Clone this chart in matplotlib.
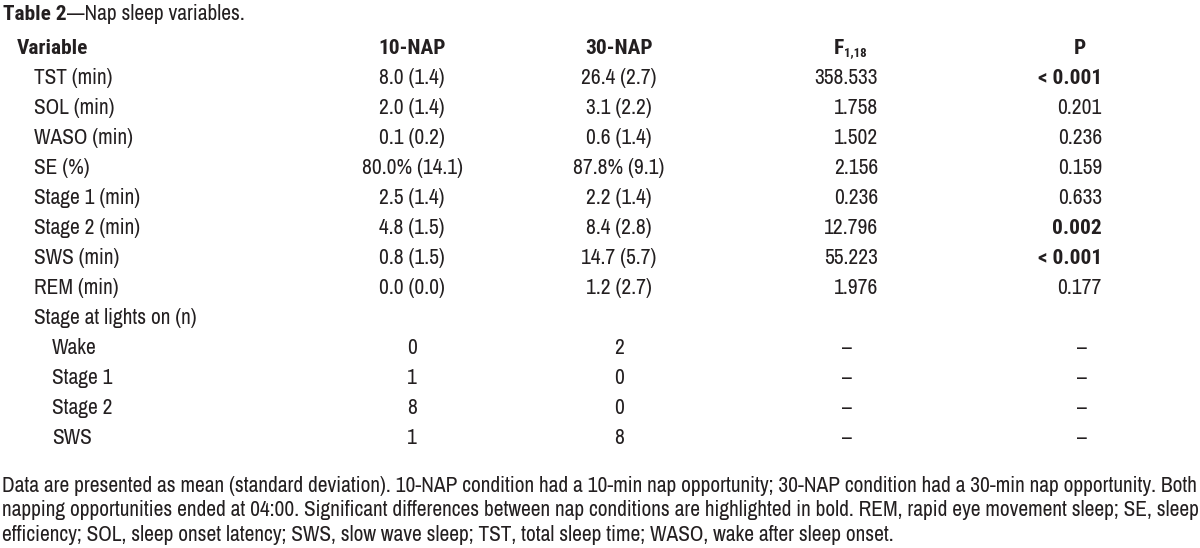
import matplotlib.pyplot as plt
from matplotlib import font_manager

# table content
variables = ["TST (min)", "SOL (min)", "WASO (min)", "SE (%)", "Stage 1 (min)",
             "Stage 2 (min)", "SWS (min)", "REM (min)"]
nap10 = ["8.0 (1.4)", "2.0 (1.4)", "0.1 (0.2)", "80.0% (14.1)", "2.5 (1.4)",
         "4.8 (1.5)", "0.8 (1.5)", "0.0 (0.0)"]
nap30 = ["26.4 (2.7)", "3.1 (2.2)", "0.6 (1.4)", "87.8% (9.1)", "2.2 (1.4)",
         "8.4 (2.8)", "14.7 (5.7)", "1.2 (2.7)"]
f_vals = ["358.533", "1.758", "1.502", "2.156", "0.236", "12.796", "55.223", "1.976"]
p_vals = ["< 0.001", "0.201", "0.236", "0.159", "0.633", "0.002", "< 0.001", "0.177"]
p_bold = [True, False, False, False, False, True, True, False]

stage_group = "Stage at lights on (n)"
stages = ["Wake", "Stage 1", "Stage 2", "SWS"]
stage_10 = ["0", "1", "8", "1"]
stage_30 = ["2", "0", "0", "8"]

title_bold = "Table 2"
title_rest = "\u2014Nap sleep variables."
footnote = [
    "Data are presented as mean (standard deviation). 10-NAP condition had a 10-min nap opportunity; 30-NAP condition had a 30-min nap opportunity. Both",
    "napping opportunities ended at 04:00. Significant differences between nap conditions are highlighted in bold. REM, rapid eye movement sleep; SE, sleep",
    "efficiency; SOL, sleep onset latency; SWS, slow wave sleep; TST, total sleep time; WASO, wake after sleep onset.",
]

ttf = font_manager.fontManager.ttflist
names = {f.name for f in ttf}
bold_names = {f.name for f in ttf if (f.weight if isinstance(f.weight, int) else 700 if f.weight == "bold" else 400) >= 600}
wanted = ["Liberation Sans Narrow", "Arimo Narrow", "Archivo Narrow", "Roboto Condensed",
          "Pragati Narrow", "Liberation Sans", "DejaVu Sans"]
fam = [n for n in wanted if n in names]
fam_bold = [n for n in wanted if n in bold_names] or fam
plt.rcParams["font.family"] = fam

W, H = 1200, 548
fig = plt.figure(figsize=(W / 100, H / 100), dpi=100)
ink = "#231f20"

# pick a size so the longest footnote line spans the width as in the reference
probe = fig.text(0, 0.5, footnote[0], fontsize=14)
fig.canvas.draw()
wpx = probe.get_window_extent().width
probe.remove()
fs = min(16.5, 14 * 1193 / wpx)


def put(x, y, s, bold=False, **kw):
    kw.setdefault("fontsize", fs)
    kw.setdefault("color", ink)
    kw.setdefault("va", "center")
    if bold:
        kw["family"] = fam_bold
        kw["fontweight"] = "bold"
    return fig.text(x / W, 1 - y / H, s, **kw)


# title
t = put(3, 14, title_bold, bold=True)
fig.canvas.draw()
bb = t.get_window_extent()
put(bb.x1, 14, title_rest)

# header
put(17, 48, "Variable", bold=True)
put(412, 48, "10-NAP", bold=True, ha="center")
put(619, 48, "30-NAP", bold=True, ha="center")
put(844, 48, "F", bold=True, ha="right")
put(844, 53, "1,18", bold=True, ha="left", fontsize=fs * 0.6)
put(1080, 48, "P", bold=True, ha="center")

x_f, x_p = 878, 1102
row_h = 30
y0 = 78
for i, v in enumerate(variables):
    y = y0 + i * row_h
    put(34, y, v)
    put(412, y, nap10[i], ha="center")
    put(619, y, nap30[i], ha="center")
    put(x_f, y, f_vals[i], ha="right")
    put(x_p, y, p_vals[i], bold=p_bold[i], ha="right")

y = y0 + len(variables) * row_h
put(34, y, stage_group)
for j, s in enumerate(stages):
    y = y0 + (len(variables) + 1 + j) * row_h
    put(52, y, s)
    put(412, y, stage_10[j], ha="center")
    put(619, y, stage_30[j], ha="center")
    put(847, y, "\u2013", ha="center")
    put(1082, y, "\u2013", ha="center")

for k, line in enumerate(footnote):
    put(2, 486 + k * 24.5, line)

fig.savefig("out.png", dpi=100)
